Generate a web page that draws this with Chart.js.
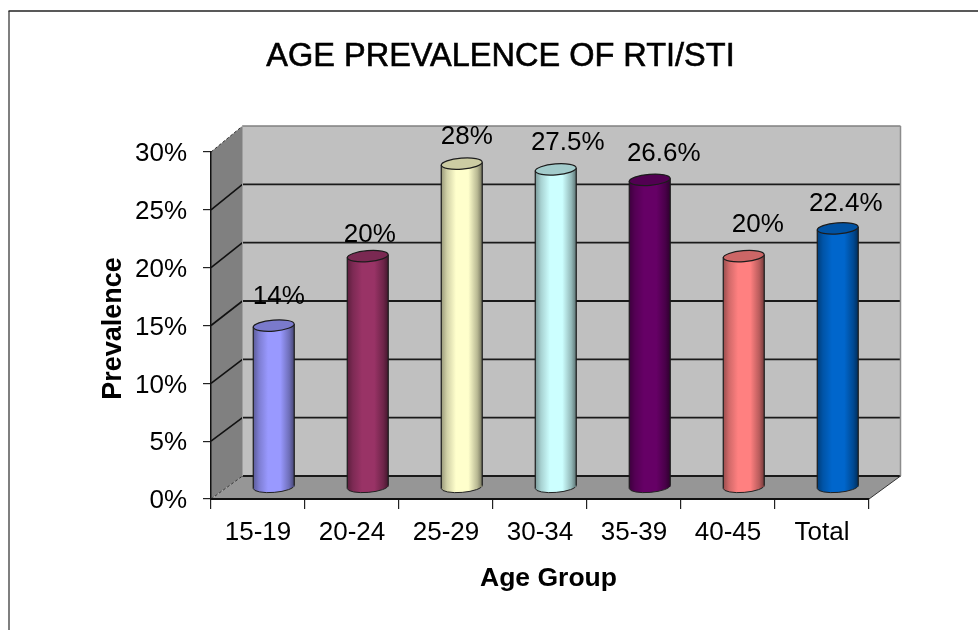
<!DOCTYPE html>
<html lang="en">

<head>
    <meta charset="UTF-8">
    <title>Age Prevalence of RTI/STI</title>
    <script src="https://cdn.jsdelivr.net/npm/chart.js"></script>
    <style>
        html, body { margin: 0; background: #fff; overflow: hidden; }
        canvas { display: block; }
    </style>
</head>

<body>
    <canvas id="prevalenceChart" width="978" height="630"></canvas>

    <script>
        const ageGroups = ['15-19', '20-24', '25-29', '30-34', '35-39', '40-45', 'Total'];
        const prevalence = [14, 20, 28, 27.5, 26.6, 20, 22.4];
        const barColors = ['#9999ff', '#993366', '#ffffcc', '#ccffff', '#660066', '#ff8080', '#0066cc'];
        const yTicks = [0, 5, 10, 15, 20, 25, 30];

        const chartTitle = 'AGE PREVALENCE OF RTI/STI';
        const yAxisTitle = 'Prevalence';
        const xAxisTitle = 'Age Group';

        // depth of the fake 3D box, in pixels
        const DEPTH_X = 31.5;
        const DEPTH_Y = 23;
        const BACK_STRETCH = 350 / 347; // back wall is a touch taller than the front axis
        const BAR_FRACTION = 0.436;
        const CAP_H = 5.5;
        const CAP_TILT = -0.08;
        const FONT = '"Liberation Sans", Arial, sans-serif';

        // value labels sit off-centre above each cylinder
        const labelNudgeX = [5, 2, 5, 12, 14, 14, 8];
        const labelNudgeY = [-29, -21, -27, -27, -26, -31, -25];

        function shade(hex, f) {
            const n = parseInt(hex.slice(1), 16);
            const r = Math.round((n >> 16) * f);
            const g = Math.round(((n >> 8) & 255) * f);
            const b = Math.round((n & 255) * f);
            return `rgb(${r},${g},${b})`;
        }

        // cylinder shading, dark at both edges
        function barGradient(ctx) {
            const chart = ctx.chart;
            if (!chart.chartArea || ctx.dataIndex === undefined) return barColors[0];
            const xScale = chart.scales.x;
            const cx = xScale.getPixelForValue(ctx.dataIndex);
            const half = xScale.width / ageGroups.length * BAR_FRACTION / 2;
            const color = barColors[ctx.dataIndex];
            const g = chart.ctx.createLinearGradient(cx - half, 0, cx + half, 0);
            g.addColorStop(0, shade(color, 0.6));
            g.addColorStop(0.14, shade(color, 0.82));
            g.addColorStop(0.36, color);
            g.addColorStop(0.66, color);
            g.addColorStop(0.88, shade(color, 0.72));
            g.addColorStop(1, shade(color, 0.45));
            return g;
        }

        function backY(yPix, floorY) {
            return floorY - DEPTH_Y + (yPix - floorY) * BACK_STRETCH;
        }

        function line(ctx, x1, y1, x2, y2, color, width, dash) {
            ctx.save();
            ctx.beginPath();
            ctx.moveTo(x1, y1);
            ctx.lineTo(x2, y2);
            ctx.strokeStyle = color;
            ctx.lineWidth = width;
            if (dash) ctx.setLineDash(dash);
            ctx.stroke();
            ctx.restore();
        }

        function poly(ctx, pts, fill) {
            ctx.beginPath();
            pts.forEach((p, i) => i ? ctx.lineTo(p[0], p[1]) : ctx.moveTo(p[0], p[1]));
            ctx.closePath();
            ctx.fillStyle = fill;
            ctx.fill();
        }

        // walls, floor, gridlines and outer frame
        const box3d = {
            id: 'box3d',
            beforeDraw(chart) {
                const { ctx, chartArea: a, scales: { y } } = chart;
                const bx = a.left + DEPTH_X;
                const rx = a.right + DEPTH_X;
                const floorB = backY(a.bottom, a.bottom);
                const topB = backY(a.top, a.bottom);

                line(ctx, 9, 630, 9, 11, '#555', 1.5);
                line(ctx, 8.5, 11, 978, 11, '#222', 1.5);

                poly(ctx, [[bx, topB], [rx, topB], [rx, floorB], [bx, floorB]], '#c0c0c0');
                poly(ctx, [[a.left, a.top], [bx, topB], [bx, floorB], [a.left, a.bottom]], '#808080');
                poly(ctx, [[a.left, a.bottom], [a.right, a.bottom], [rx, floorB], [bx, floorB]], '#969696');

                yTicks.forEach(v => {
                    const p = y.getPixelForValue(v);
                    const b = backY(p, a.bottom);
                    const edge = v === 0 || v === yTicks[yTicks.length - 1];
                    line(ctx, a.left, p, bx, b, edge ? '#333' : '#111', edge ? 1 : 1.6, edge ? [3, 2] : null);
                    if (v === yTicks[yTicks.length - 1]) line(ctx, bx, b, rx, b, '#808080', 1.6);
                    else line(ctx, bx, b, rx, b, '#1a1a1a', 1.8);
                });
                line(ctx, rx, topB, rx, floorB, '#8c8c8c', 1.5);
                line(ctx, bx, topB, bx, floorB, '#a0a0a0', 1);
                line(ctx, a.right, a.bottom, rx, floorB, '#333', 1);
            },
            // shift the bars to the middle of the box depth, bottom ends first
            beforeDatasetDraw(chart, args) {
                const ctx = chart.ctx;
                ctx.save();
                ctx.translate(DEPTH_X / 2, -DEPTH_Y / 2);
                args.meta.data.forEach(el => {
                    ctx.beginPath();
                    ctx.ellipse(el.x, el.base, el.width / 2, CAP_H, CAP_TILT, 0, Math.PI * 2);
                    ctx.fillStyle = el.options.backgroundColor;
                    ctx.fill();
                    ctx.beginPath();
                    ctx.ellipse(el.x, el.base, el.width / 2, CAP_H, CAP_TILT, 0, Math.PI);
                    ctx.strokeStyle = '#222';
                    ctx.lineWidth = 1;
                    ctx.stroke();
                });
            },
            afterDatasetDraw(chart, args) {
                const ctx = chart.ctx;
                args.meta.data.forEach((el, i) => {
                    const half = el.width / 2;
                    line(ctx, el.x - half, el.y + 1, el.x - half, el.base + 1.5, '#1c1c1c', 1.2);
                    line(ctx, el.x + half, el.y - 1.5, el.x + half, el.base - 1.5, '#1c1c1c', 1.2);
                    ctx.beginPath();
                    ctx.ellipse(el.x, el.y, half, CAP_H, CAP_TILT, 0, Math.PI * 2);
                    ctx.fillStyle = shade(barColors[i], 0.8);
                    ctx.fill();
                    ctx.strokeStyle = '#1c1c1c';
                    ctx.lineWidth = 1.2;
                    ctx.stroke();
                });
                ctx.restore();
            },
            afterDatasetsDraw(chart) {
                const ctx = chart.ctx;
                const meta = chart.getDatasetMeta(0);
                ctx.save();
                ctx.fillStyle = '#000';
                ctx.textAlign = 'center';
                ctx.textBaseline = 'middle';
                ctx.font = `26px ${FONT}`;
                meta.data.forEach((el, i) => {
                    ctx.fillText(prevalence[i] + '%', el.x + DEPTH_X / 2 + labelNudgeX[i], el.y - DEPTH_Y / 2 + labelNudgeY[i]);
                });

                // title is slightly heavier than regular weight
                ctx.font = `32.5px ${FONT}`;
                ctx.strokeStyle = '#000';
                ctx.lineWidth = 0.6;
                ctx.fillText(chartTitle, 500.5, 57.5);
                ctx.strokeText(chartTitle, 500.5, 57.5);

                ctx.font = `bold 26.5px ${FONT}`;
                ctx.fillText(xAxisTitle, 548.5, 579);
                ctx.font = `bold 27px ${FONT}`;
                ctx.translate(114, 328.5);
                ctx.rotate(-Math.PI / 2);
                ctx.fillText(yAxisTitle, 0, 0);
                ctx.restore();
            }
        };

        new Chart(document.getElementById('prevalenceChart'), {
            type: 'bar',
            data: {
                labels: ageGroups,
                datasets: [{
                    label: yAxisTitle,
                    data: prevalence,
                    backgroundColor: barGradient,
                    borderWidth: 0,
                    categoryPercentage: 1,
                    barPercentage: BAR_FRACTION,
                    clip: false
                }]
            },
            options: {
                responsive: false,
                animation: false,
                events: [],
                layout: { padding: { top: 152, right: 109, bottom: 0, left: 0 } },
                plugins: {
                    legend: { display: false },
                    tooltip: { enabled: false }
                },
                scales: {
                    x: {
                        afterFit(scale) { scale.height = 131; },
                        grid: { drawOnChartArea: false, drawTicks: true, tickLength: 10, color: '#222', lineWidth: 1.2 },
                        border: { display: true, color: '#111', width: 2 },
                        ticks: {
                            color: '#000',
                            font: { family: FONT, size: 26 },
                            padding: 8,
                            autoSkip: false,
                            maxRotation: 0
                        }
                    },
                    y: {
                        min: 0,
                        max: 30,
                        afterFit(scale) { scale.width = 211; },
                        afterBuildTicks(scale) { scale.ticks = yTicks.map(value => ({ value })); },
                        grid: { drawOnChartArea: false, drawTicks: true, tickLength: 8, color: '#222', lineWidth: 1.2 },
                        border: { display: true, color: '#111', width: 1.5 },
                        ticks: {
                            color: '#000',
                            font: { family: FONT, size: 26 },
                            padding: 16,
                            labelOffset: 2,
                            callback: v => v + '%'
                        }
                    }
                }
            },
            plugins: [box3d]
        });
    </script>
</body>

</html>
